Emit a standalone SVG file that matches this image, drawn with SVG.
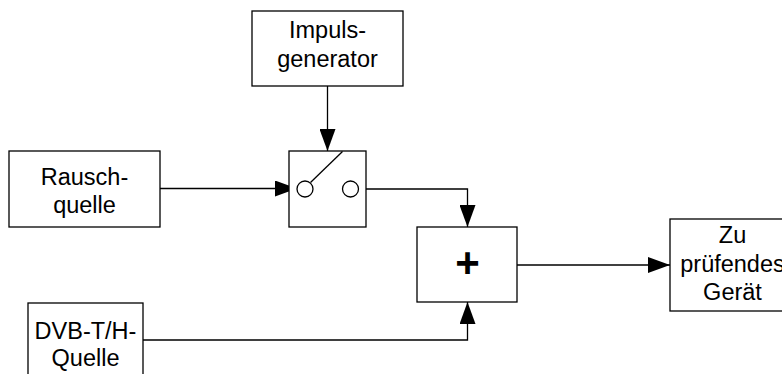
<svg xmlns="http://www.w3.org/2000/svg" width="782" height="374" viewBox="0 0 782 374">
<defs>
<style>
.box{fill:#fff;stroke:#000;stroke-width:1.3}
.ln{fill:none;stroke:#000;stroke-width:1.3}
text{font-family:"Liberation Sans",Arial,sans-serif;font-size:23.5px;fill:#000;text-anchor:middle}
</style>
<marker id="arr" markerWidth="22" markerHeight="16" refX="22" refY="8" orient="auto" markerUnits="userSpaceOnUse">
<path d="M0,0 L22,8 L0,16 Z" fill="#000"/>
</marker>
</defs>
<rect width="782" height="374" fill="#fff"/>
<g id="connectors">
<path class="ln" d="M327.5,86 V151" marker-end="url(#arr)"/>
<path class="ln" d="M160,188.5 H297" marker-end="url(#arr)"/>
<path class="ln" d="M359,189 H467.5 V227" marker-end="url(#arr)"/>
<path class="ln" d="M143,340 H467.5 V302" marker-end="url(#arr)"/>
<path class="ln" d="M517,265 H670" marker-end="url(#arr)"/>
</g>
<g id="impuls">
<rect class="box" x="252" y="11" width="151" height="75"/>
<text x="327.5" y="38">Impuls-</text>
<text x="327.5" y="67">generator</text>
</g>
<g id="rausch">
<rect class="box" x="9" y="151" width="151" height="76"/>
<text x="84.5" y="185">Rausch-</text>
<text x="84.5" y="213">quelle</text>
</g>
<g id="switch">
<rect class="box" x="289" y="151" width="77" height="76"/>
<circle class="ln" cx="305" cy="189" r="8" fill="#fff"/>
<circle class="ln" cx="350.5" cy="189" r="8" fill="#fff"/>
<line class="ln" x1="310.5" y1="182.5" x2="342.5" y2="151.5"/>
</g>
<g id="adder">
<rect class="box" x="417" y="227" width="100" height="75"/>
<text x="467.5" y="277" style="font-size:42px;font-weight:bold">+</text>
</g>
<g id="dut">
<rect class="box" x="670" y="219" width="125" height="92"/>
<text x="732.5" y="243">Zu</text>
<text x="732.5" y="272">prüfendes</text>
<text x="732.5" y="300">Gerät</text>
</g>
<g id="dvb">
<rect class="box" x="28" y="303" width="115" height="80"/>
<text x="85.5" y="339">DVB-T/H-</text>
<text x="85.5" y="366">Quelle</text>
</g>
</svg>
